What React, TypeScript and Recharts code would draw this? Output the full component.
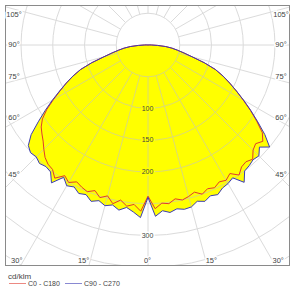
import { RadarChart, Radar, PolarGrid, PolarAngleAxis, PolarRadiusAxis } from 'recharts'

// gamma angles (deg from nadir) for each half-plane, cd/klm
const GAMMA = [0, 2.5, 5, 7.5, 10, 12.5, 15, 17.5, 20, 22.5, 25, 27.5, 30, 32.5, 35, 37.5, 40, 42.5, 45, 47.5, 50,
  52.5, 55, 57.5, 60, 62.5, 65, 67.5, 70, 72.5, 75, 77.5, 80, 82.5, 85, 87.5, 90, 92.5, 95]

const C0 = [238, 258, 250, 252, 246, 250, 247, 243, 250, 245, 248, 243, 246, 240, 250, 242, 240, 244, 234, 230, 236,
  227, 209, 191, 173, 157, 142, 128, 113, 93, 72, 58, 47, 38, 28, 15, 6, 3, 0]
const C180 = [238, 262, 252, 256, 248, 256, 246, 252, 244, 250, 247, 243, 250, 244, 256, 247, 245, 240, 232, 224, 218,
  212, 203, 189, 172, 156, 142, 128, 113, 93, 72, 58, 47, 38, 28, 15, 6, 3, 0]
const C90 = [240, 270, 262, 266, 262, 265, 264, 258, 262, 257, 260, 254, 252, 248, 264, 250, 248, 245, 247, 238, 250,
  232, 211, 192, 174, 157, 142, 128, 113, 93, 72, 58, 47, 38, 28, 15, 6, 3, 0]
const C270 = [240, 272, 264, 258, 264, 258, 262, 257, 262, 255, 258, 252, 256, 247, 265, 252, 250, 253, 249, 251, 246,
  232, 211, 192, 174, 157, 142, 128, 113, 93, 72, 58, 47, 38, 28, 15, 6, 3, 0]

const RINGS = [50, 100, 150, 200, 250, 300, 350, 400]
const RING_LABELS = [100, 150, 200, 300]
const SPOKES = [0, 15, 30, 45, 60, 75, 90, 105, 120, 135, 150, 165, 180, 195, 210, 225, 240, 255, 270, 285, 300, 315, 330, 345]
const SIDE_LABELS = [105, 90, 75, 60, 45]
const BOTTOM_LABELS = [30, 15, 0]

const PX = 31.75 / 50 // px per cd/klm
const CX = 147.5
const CY = 44.5
const BOX = { left: 5, top: 5, right: 290, bottom: 266 }
const SIZE = 700
const MAX = 400
const STEP = 2.5
const N = 360 / STEP

// full circle, index 0 at nadir, going clockwise (left half first)
const rows = Array.from({ length: N }, (_, i) => {
  const left = i <= N / 2
  const k = left ? i : N - i
  const idx = GAMMA.indexOf(k * STEP)
  const pick = (arr: number[]) => (idx >= 0 ? arr[idx] : 0)
  return {
    a: String(i),
    red: left ? pick(C180) : pick(C0),
    blue: left ? pick(C270) : pick(C90),
  }
})

const FONT = '"Liberation Sans", Arial, sans-serif'
const RED = '#e03a2e'
const BLUE = '#3b3bb4'
const RAD = Math.PI / 180

function sideLabel(g: number, side: number) {
  const x = side < 0 ? BOX.left + 9 : BOX.right - 9
  const t = Math.abs(x - CX) / Math.sin(g * RAD)
  let y = CY + t * Math.cos(g * RAD)
  y += g < 90 ? -4 : g > 90 ? 4 : 0
  return { x, y: Math.max(y, BOX.top + 9) }
}

function bottomLabel(g: number, side: number) {
  const y = BOX.bottom - 5.5
  const x = CX + side * ((y - CY) * Math.tan(g * RAD) + (g > 0 ? 6 : 0))
  return { x, y }
}

const chartBase = {
  width: SIZE,
  height: SIZE,
  cx: SIZE / 2,
  cy: SIZE / 2,
  startAngle: -90,
  endAngle: -450,
  margin: { top: 0, right: 0, bottom: 0, left: 0 },
  data: rows,
}

const layer: React.CSSProperties = {
  position: 'absolute',
  left: CX - BOX.left - SIZE / 2,
  top: CY - BOX.top - SIZE / 2,
}

export default function App() {
  const labelProps = { fontFamily: FONT, fill: '#444', textAnchor: 'middle' as const, dominantBaseline: 'central' as const }
  const angleLabels: { x: number; y: number; t: string }[] = []
  SIDE_LABELS.forEach(g => {
    angleLabels.push({ ...sideLabel(g, -1), t: `${g}°` })
    angleLabels.push({ ...sideLabel(g, 1), t: `${g}°` })
  })
  BOTTOM_LABELS.forEach(g => {
    angleLabels.push({ ...bottomLabel(g, -1), t: `${g}°` })
    if (g > 0) angleLabels.push({ ...bottomLabel(g, 1), t: `${g}°` })
  })

  return (
    <div style={{ position: 'absolute', left: 0, top: 0, width: 295, height: 296, background: '#fff' }}>
      <div style={{
        position: 'absolute', left: BOX.left, top: BOX.top,
        width: BOX.right - BOX.left, height: BOX.bottom - BOX.top, overflow: 'hidden',
      }}>
        {/* yellow fill */}
        <div style={layer}>
          <RadarChart {...chartBase} outerRadius={MAX * PX}>
            <PolarAngleAxis dataKey="a" tick={false} axisLine={false} tickLine={false} />
            <PolarRadiusAxis domain={[0, MAX]} tick={false} axisLine={false} />
            <Radar dataKey="blue" fill="#ffff00" fillOpacity={1} stroke="none" dot={false} isAnimationActive={false} />
            <Radar dataKey="red" fill="#ffff00" fillOpacity={1} stroke="none" dot={false} isAnimationActive={false} />
          </RadarChart>
        </div>
        {/* grid over the fill, spokes start at the 50 ring */}
        <div style={{ ...layer, opacity: 0.6 }}>
          <RadarChart {...chartBase} outerRadius={300} innerRadius={50 * PX}>
            <PolarGrid
              gridType="circle"
              polarAngles={SPOKES}
              polarRadius={RINGS.map(r => r * PX)}
              stroke="#c4c4c4"
            />
          </RadarChart>
        </div>
        {/* outlines */}
        <div style={layer}>
          <RadarChart {...chartBase} outerRadius={MAX * PX}>
            <PolarAngleAxis dataKey="a" tick={false} axisLine={false} tickLine={false} />
            <PolarRadiusAxis domain={[0, MAX]} tick={false} axisLine={false} />
            <Radar dataKey="red" fill="none" stroke={RED} strokeWidth={1} dot={false} isAnimationActive={false} />
            <Radar dataKey="blue" fill="none" stroke={BLUE} strokeWidth={1} dot={false} isAnimationActive={false} />
          </RadarChart>
        </div>
      </div>

      <svg width={295} height={296} style={{ position: 'absolute', left: 0, top: 0 }}>
        <rect x={BOX.left + 0.5} y={BOX.top + 0.5} width={BOX.right - BOX.left - 1} height={BOX.bottom - BOX.top - 1}
          fill="none" stroke="#8a8a8a" />
        {RING_LABELS.map(v => (
          <text key={v} x={CX} y={CY + v * PX} fontSize={7} {...labelProps}
            stroke={v <= 200 ? '#ffff00' : '#fff'} strokeWidth={3} paintOrder="stroke">{v}</text>
        ))}
        {angleLabels.map((l, i) => (
          <text key={i} x={l.x} y={l.y} fontSize={7.5} {...labelProps}
            stroke="#fff" strokeWidth={3} paintOrder="stroke">{l.t}</text>
        ))}
        <text x={8} y={276.5} fontSize={8} fontFamily={FONT} fill="#444" dominantBaseline="central">cd/klm</text>
        <line x1={9} x2={26} y1={283.5} y2={283.5} stroke={RED} strokeOpacity={0.6} />
        <text x={28} y={283.5} fontSize={7} fontFamily={FONT} fill="#444" dominantBaseline="central">C0 - C180</text>
        <line x1={65} x2={82} y1={283.5} y2={283.5} stroke={BLUE} strokeOpacity={0.6} />
        <text x={84} y={283.5} fontSize={7} fontFamily={FONT} fill="#444" dominantBaseline="central">C90 - C270</text>
      </svg>
    </div>
  )
}
